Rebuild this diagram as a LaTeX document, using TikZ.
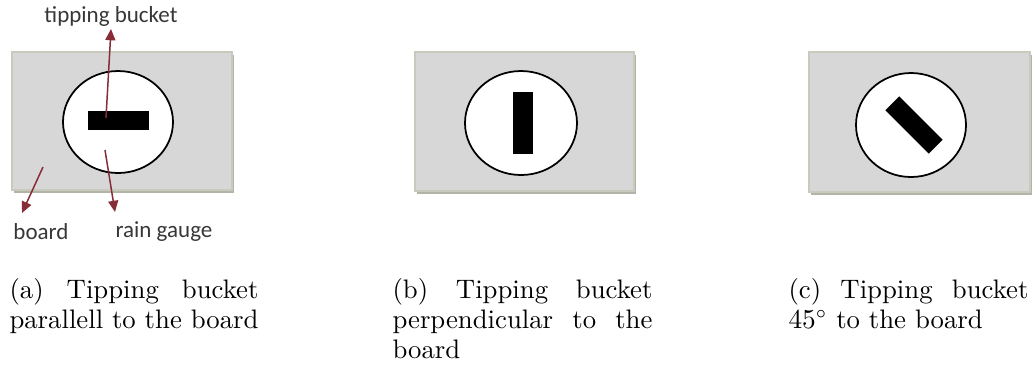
\documentclass[tikz,border=0pt]{standalone}
\usepackage{fontspec}
\newfontfamily\labelfont{Carlito}
\usetikzlibrary{arrows.meta, positioning}
\definecolor{boardgray}{RGB}{215,215,215}
\definecolor{boardedge}{RGB}{200,202,190}
\definecolor{boardshadow}{RGB}{178,180,168}
\definecolor{arrowred}{RGB}{135,45,55}
\definecolor{labelgray}{RGB}{55,55,55}
\tikzset{
	board/.style={fill=boardgray, draw=boardedge, line width=0.8pt}
}
\tikzset{
	gauge/.style={draw, fill=white, line width=0.7pt},
	bucket/.style={fill=black, inner sep=0pt, minimum width=24.5pt, minimum height=7.8pt},
	pointer/.style={draw=arrowred, line width=0.6pt, -{Triangle[length=4.5pt, width=4pt]}},
	lbl/.style={font=\labelfont\fontsize{9.2}{10}\selectfont, text=labelgray, inner sep=1pt},
	subcap/.style={anchor=north west, inner sep=0pt, text width=#1, align=justify,
		font=\fontsize{10.7}{12}\selectfont}
}

\begin{document}
\begin{tikzpicture}[x=0.4pt, y=-0.4pt]
      \useasboundingbox (0,0) rectangle (1034,369);
      % (a) parallel
      \fill[boardshadow] (14,55) rectangle (234,193);
      \draw[board] (12,52) rectangle (232,190);
      \draw[gauge] (118,122) ellipse [x radius=55, y radius=51];
      \node[bucket] (bka) at (118.5,120.5) {};
      \node[lbl] (tblbl) at (111,16) {tipping bucket};
      \node[lbl] (bdlbl) at (41,232) {board};
      \node[lbl] (rglbl) at (164,232) {rain gauge};
      \coordinate (tb0) at (106,118);
      \coordinate (bd0) at (43,167);
      \coordinate (bd1) at (22,213);
      \coordinate (rg0) at (105,150);
      \coordinate (rg1) at (115,212);
      \draw[pointer] (tb0) -- (tblbl.south);
      \draw[pointer] (bd0) -- (bd1);
      \draw[pointer] (rg0) -- (rg1);
      % (b) perpendicular
      \fill[boardshadow] (417,55) rectangle (636,194);
      \draw[board] (415,52) rectangle (634,191);
      \draw[gauge] (521,123) ellipse [x radius=56, y radius=52];
      \node[bucket, rotate=90] (bkb) at (523,123) {};
      % (c) 45 degrees
      \fill[boardshadow] (811,55) rectangle (1032,195);
      \draw[board] (809,52) rectangle (1030,192);
      \draw[gauge] (911,125) ellipse [x radius=55, y radius=52];
      \node[bucket, rotate=-45] (bkc) at (914,125) {};
      % captions
      \node[subcap=99.6pt] (capa) at (9,278) {(a) Tipping bucket parallell to the board};
      \node[subcap=104pt] (capb) at (392,278) {(b) Tipping bucket perpendicular to the board};
      \node[subcap=96pt] (capc) at (788,278) {(c) Tipping bucket $45^\circ$ to the board};
    \end{tikzpicture}
\end{document}
